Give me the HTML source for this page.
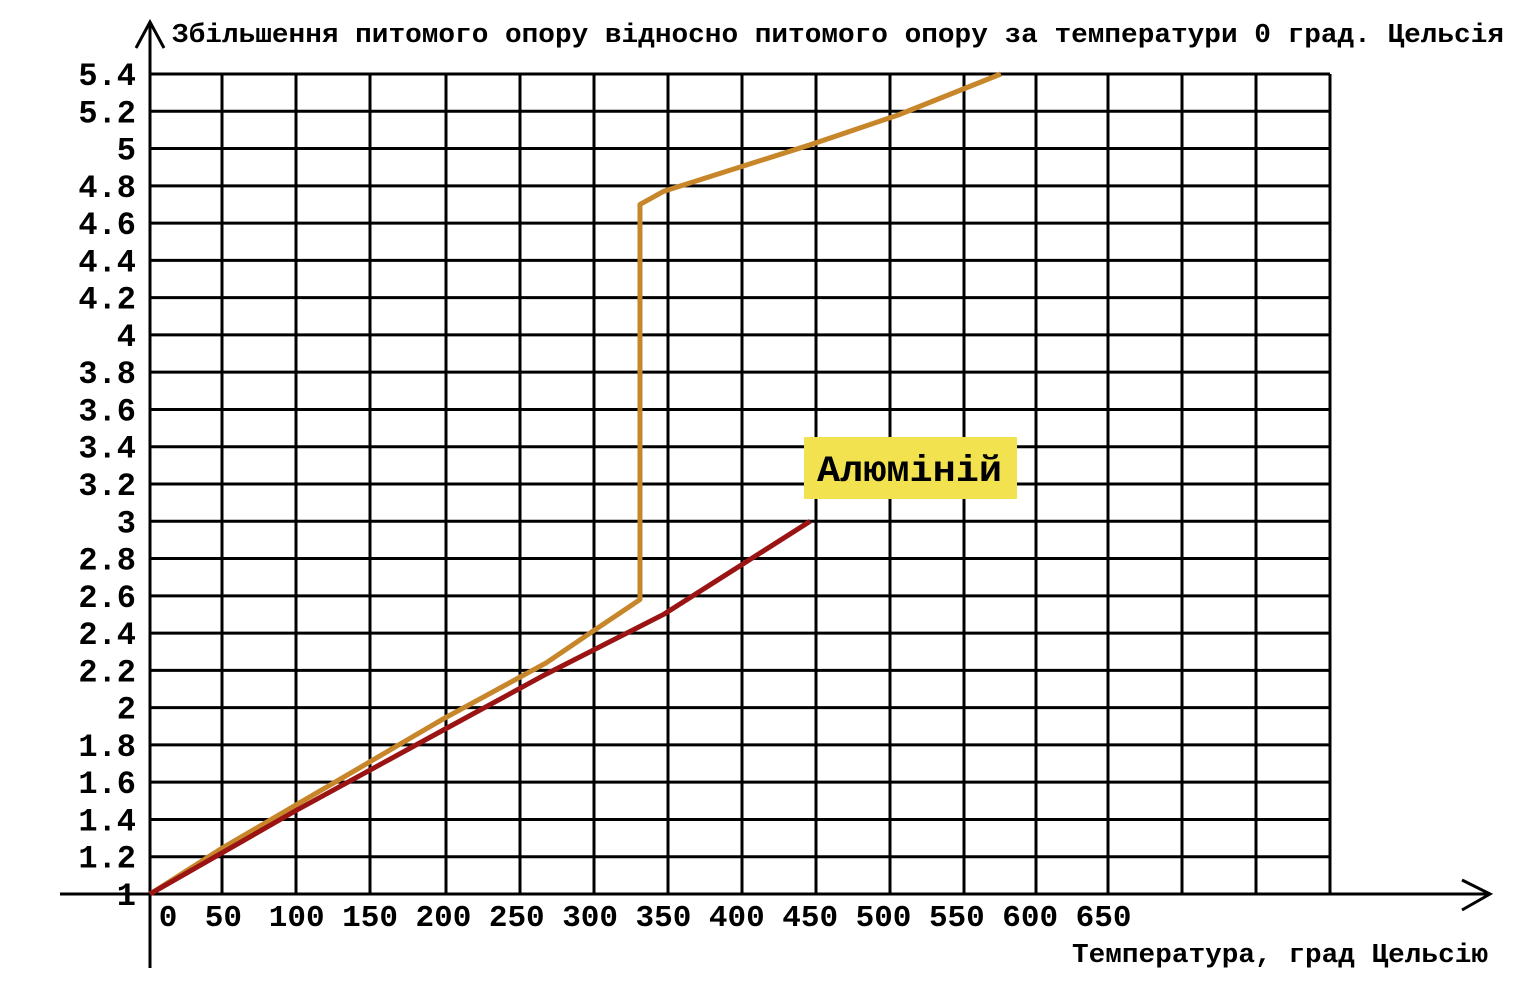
<!DOCTYPE html>
<html><head><meta charset="utf-8"><style>
html,body{margin:0;padding:0;background:#fff;}
svg{display:block;font-family:"Liberation Mono","DejaVu Sans Mono",monospace;font-weight:bold;}
</style></head><body>
<svg id="chart" width="1524" height="1000" viewBox="0 0 1524 1000"></svg>
<script>
const xTicks=[0,50,100,150,200,250,300,350,400,450,500,550,600,650];
const yTicks=[1,1.2,1.4,1.6,1.8,2,2.2,2.4,2.6,2.8,3,3.2,3.4,3.6,3.8,4,4.2,4.4,4.6,4.8,5,5.2,5.4];
const orangeX=[0,50,100,150,200,270,300,334,334,350,450,510,580];
const orangeY=[1,1.25,1.48,1.71,1.94,2.24,2.4,2.58,4.7,4.77,5.02,5.18,5.4];
const redX=[0,100,200,270,300,350,400,450];
const redY=[1,1.45,1.88,2.18,2.3,2.5,2.75,3];
const NS="http://www.w3.org/2000/svg";
const svg=document.getElementById('chart');
const X=v=>150+v*1.467;
const Y=v=>894-(v-1)*(820/4.4);
function mk(t,a,p){const e=document.createElementNS(NS,t);for(const k in a)e.setAttribute(k,a[k]);(p||svg).appendChild(e);return e;}
const g=mk('g',{});


const vx=[222,296,370,446,520,594,668,742,816,890,964,1036,1108,1182,1256,1330];
vx.forEach(x=>mk('line',{x1:x,y1:74,x2:x,y2:894,stroke:'#000','stroke-width':3},g));
yTicks.forEach(v=>{if(v>1)mk('line',{x1:150,y1:Y(v),x2:1330,y2:Y(v),stroke:'#000','stroke-width':3},g);});
const ax=mk('path',{d:'M60 894 H1490 M1462 880 L1490 894 L1462 910 M150 968 V22 M136 48 L150 22 L164 48',fill:'none',stroke:'#000','stroke-width':3});


yTicks.forEach(v=>{const t=mk('text',{x:136,y:Y(v)+11,'text-anchor':'end','font-size':32});t.textContent=String(v);

});
xTicks.forEach(v=>{const t=mk('text',{x:X(v)+(v===0?18:0),y:926,'text-anchor':'middle','font-size':31});t.textContent=String(v);

});
const tt=mk('text',{x:172,y:42,'font-size':27,textLength:1332,lengthAdjust:'spacingAndGlyphs'});
tt.textContent='Збільшення питомого опору відносно питомого опору за температури 0 град. Цельсія';


const xt=mk('text',{x:1072,y:962,'font-size':27,textLength:416,lengthAdjust:'spacingAndGlyphs'});
xt.textContent='Температура, град Цельсію';


function line(xs,ys,c,name){const p=mk('polyline',{points:xs.map((x,i)=>X(x)+','+Y(ys[i])).join(' '),fill:'none',stroke:c,'stroke-width':5,'stroke-linejoin':'round'});

}
line(orangeX,orangeY,'#c8862a','series-orange');
line(redX,redY,'#9a1414','series-aluminium');
const lb=mk('rect',{x:804,y:437,width:213,height:62,fill:'#f2e250'});


const lt=mk('text',{x:817,y:481,'font-size':37,textLength:185,lengthAdjust:'spacingAndGlyphs'});
lt.textContent='Алюміній';


</script>
</body></html>
